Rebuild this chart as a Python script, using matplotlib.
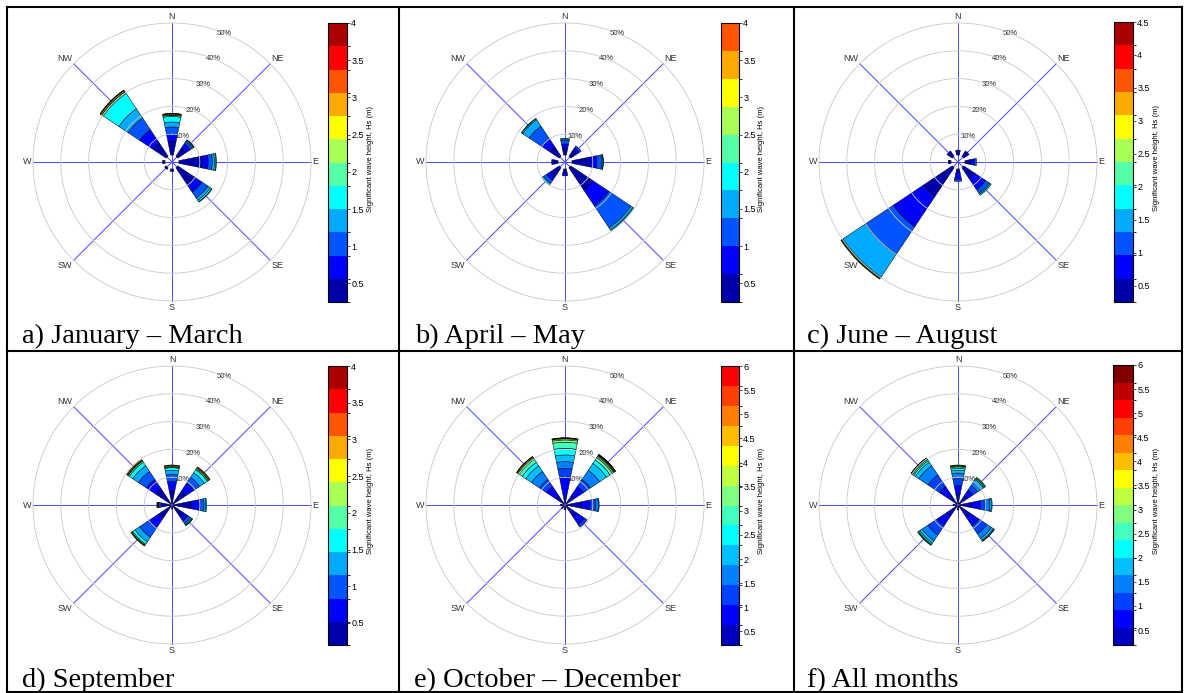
import numpy as np
import matplotlib
matplotlib.use('Agg')
import matplotlib.pyplot as plt
from matplotlib.colors import ListedColormap, BoundaryNorm
from matplotlib.lines import Line2D
from matplotlib.ticker import FuncFormatter
import matplotlib.colorbar as mcolorbar

plt.rcParams['font.family'] = 'Liberation Sans'

W, H = 1184, 693

## ---------------------------------------------------------------- data
# directions: N, NE, E, SE, S, SW, W, NW ; values = % of time in each Hs bin
dir_names = ['N', 'NE', 'E', 'SE', 'S', 'SW', 'W', 'NW']
dir_deg = [0, 45, 90, 135, 180, 225, 270, 315]

freq_a = [[4.8, 2.7, 2.6, 1.8, 2.0, 0.4, 0.1, 0.3, 0.2, 0.1],
          [3.5, 2.0, 0.8, 0.4, 0.3, 0.1],
          [8.5, 2.0, 1.5, 0.8, 0.5, 0.2],
          [7.1, 3.4, 2.6, 1.0, 0.6, 0.2],
          [0.6, 0.3],
          [0.5, 0.2],
          [0.6, 0.3],
          [5.5, 6.0, 5.0, 4.0, 6.7, 0.6, 0.2, 0.4, 0.15, 0.1]]
freq_b = [[2.5, 1.5, 1.3, 0.5, 0.2],
          [2.5, 1.3, 0.7],
          [6.5, 2.5, 1.8, 0.4, 0.1],
          [9.5, 7.0, 9.5, 0.9, 0.3],
          [1.5, 1.0],
          [3.5, 2.0, 1.3, 0.7],
          [1.5, 0.8],
          [4.0, 3.5, 5.5, 2.8, 0.4, 0.2]]
freq_c = [[1.2, 0.6],
          [1.5, 0.8],
          [2.0, 1.5, 0.7],
          [4.5, 5.0, 1.5, 0.5, 0.4],
          [1.5, 2.3, 0.7],
          [12.5, 13.0, 12.0, 9.8, 0.3, 0.2, 0.2, 0.2],
          [0.7, 0.3],
          [1.5, 0.8]]
freq_d = [[4.5, 3.5, 2.5, 1.5, 0.9, 0.3, 0.2, 0.3, 0.2],
          [5.5, 3.5, 2.5, 2.0, 1.3, 0.4, 0.3, 0.3, 0.2],
          [6.5, 3.0, 1.5, 0.7, 0.3],
          [4.5, 2.0, 1.0, 0.5, 0.3, 0.2],
          [1.0],
          [5.5, 4.0, 4.0, 2.0, 1.0, 0.4, 0.2, 0.2],
          [2.5, 1.0, 0.5, 0.3, 0.2, 0.1, 0.1, 0.1, 0.2],
          [6.5, 4.0, 3.5, 2.5, 1.5, 0.5, 0.2, 0.2, 0.3]]
freq_e = [[2.5, 7.2, 3.0, 2.4, 2.4, 2.4, 2.2, 0.8, 0.4, 0.2, 0.1, 0.1],
          [3.5, 4.0, 3.0, 4.0, 3.0, 1.5, 1.0, 0.5, 0.3, 0.2, 0.2, 0.1, 0.1],
          [5.5, 3.0, 2.0, 1.0, 0.3],
          [4.5, 3.5, 1.1],
          [0.8, 0.4],
          [0.8, 0.3],
          [0.8, 0.4],
          [3.5, 4.0, 3.0, 3.5, 2.5, 1.5, 1.3, 0.5, 0.3, 0.3, 0.1]]
freq_f = [[3.5, 3.0, 2.5, 2.0, 1.0, 0.7, 0.5, 0.3, 0.2, 0.2],
          [3.5, 2.5, 2.0, 1.5, 1.0, 0.4, 0.3, 0.3],
          [4.5, 3.0, 2.0, 1.5, 0.5, 0.3],
          [4.5, 4.0, 3.5, 2.0, 0.8, 0.3, 0.2],
          [1.0, 0.3],
          [4.5, 4.0, 4.0, 2.5, 1.0, 0.5, 0.3, 0.2],
          [1.0, 0.3],
          [3.5, 4.0, 5.0, 4.0, 1.5, 0.7, 0.5, 0.3, 0.2, 0.1, 0.1]]

captions = ['a) January \u2013 March', 'b) April \u2013 May', 'c) June \u2013 August',
            'd) September', 'e) October \u2013 December', 'f) All months']
freqs = [freq_a, freq_b, freq_c, freq_d, freq_e, freq_f]
hs_min = [0.25, 0.25, 0.25, 0.2, 0.22, 0.19]
hs_max = [4, 4, 4.5, 4, 6, 6]
n_bins = [12, 10, 12, 12, 14, 16]
jet_size = [12, 12, 12, 12, 16, 16]
r_start = [2.5, 2.5, 2.5, 0.5, 0.5, 0.5]
rings = [10, 20, 30, 40, 50]

## ---------------------------------------------------------------- layout (pixels)
centers = [(172, 162), (565, 162), (958, 162), (172, 505), (565, 505), (958, 505)]
cbar_box = [(328, 23, 347, 302), (721, 23, 739, 302), (1114, 22, 1133, 302),
            (328, 366, 347, 645), (721, 366, 739, 645), (1113, 365, 1133, 645)]
cap_xy = [(22, 343), (415, 343), (807, 343), (22, 687), (414, 687), (807, 687)]
R50 = 139.0      # pixel radius of the 50 % ring
RMAX = 56.0


def jet(m):
    # MATLAB style jet(m)
    n = int(np.ceil(m / 4))
    u = np.r_[np.arange(1, n + 1) / n, np.ones(n - 1), np.arange(n, 0, -1) / n]
    g = int(np.ceil(n / 2)) - (1 if m % 4 == 1 else 0) + np.arange(1, len(u) + 1)
    J = np.zeros((m, 3))
    for idx, col in ((g + n, 0), (g, 1), (g - n, 2)):
        ok = (idx >= 1) & (idx <= m)
        J[idx[ok] - 1, col] = u[ok]
    return J


fig = plt.figure(figsize=(W / 100, H / 100), dpi=100)


def fbox(x0, y0, x1, y1):
    return [x0 / W, 1 - y1 / H, (x1 - x0) / W, (y1 - y0) / H]


lab_align = {'N': ('center', 'bottom'), 'NE': ('left', 'bottom'), 'E': ('left', 'center'),
             'SE': ('left', 'top'), 'S': ('center', 'top'), 'SW': ('right', 'top'),
             'W': ('right', 'center'), 'NW': ('right', 'bottom')}

for i in range(6):
    cx, cy = centers[i]
    Rp = R50 * RMAX / 50
    ax = fig.add_axes(fbox(cx - Rp, cy - Rp, cx + Rp, cy + Rp), projection='polar')
    ax.set_theta_zero_location('N')
    ax.set_theta_direction(-1)
    ax.set_ylim(0, RMAX)
    ax.axis('off')

    cols = jet(jet_size[i])[:n_bins[i]]
    th = np.linspace(0, 2 * np.pi, 361)
    for r in rings:
        ax.plot(th, np.full_like(th, r), color='#c8c8c8', lw=0.6, zorder=3)
        ax.text(np.deg2rad(22), r, f'{r}%', fontsize=5.5, ha='center', va='center',
                color='#222222', zorder=1)
    for d, name in zip(dir_deg, dir_names):
        t = np.deg2rad(d)
        ax.plot([t, t], [0, 50], color='#4848ff', lw=0.7, zorder=1.5)
        ha, va = lab_align[name]
        ax.text(t, 50.6, name, fontsize=6.5, ha=ha, va=va, color='#333333')

    for k, d in enumerate(dir_deg):
        f = np.array(freqs[i][k])
        bottoms = r_start[i] + np.r_[0, np.cumsum(f)[:-1]]
        ax.bar(np.full(len(f), np.deg2rad(d)), f, width=np.pi / 8, bottom=bottoms,
               color=cols[:len(f)], edgecolor='black', linewidth=0.35, zorder=2)

    # colour bar
    x0, y0, x1, y1 = cbar_box[i]
    cax = fig.add_axes(fbox(x0, y0, x1, y1))
    bounds = np.linspace(hs_min[i], hs_max[i], n_bins[i] + 1)
    cb = mcolorbar.ColorbarBase(cax, cmap=ListedColormap(cols),
                                norm=BoundaryNorm(bounds, n_bins[i]), boundaries=bounds,
                                ticks=np.arange(0.5, hs_max[i] + 0.01, 0.5))
    cb.ax.yaxis.set_major_formatter(FuncFormatter(lambda v, p: f'{v:g}'))
    cb.ax.tick_params(labelsize=6.5, length=2, width=0.5, pad=1)
    cb.outline.set_linewidth(0.8)
    fig.text((x1 + 23) / W, 1 - ((y0 + y1) / 2 - 4) / H, 'Significant wave height, Hs (m)',
             rotation=90, fontsize=5.5, ha='center', va='center')

    fig.text(cap_xy[i][0] / W, 1 - cap_xy[i][1] / H, captions[i], fontsize=20.5,
             family='Liberation Serif', va='baseline', ha='left')

# table lines
for xs, ys in [((7, 1182), (7, 7)), ((7, 1182), (351, 351)), ((7, 1182), (692, 692)),
               ((7, 7), (7, 692)), ((399, 399), (7, 692)), ((794, 794), (7, 692)),
               ((1182, 1182), (7, 692))]:
    fig.add_artist(Line2D([x / W for x in xs], [1 - y / H for y in ys], color='black', lw=1.5))

plt.savefig('out.png', dpi=100)
